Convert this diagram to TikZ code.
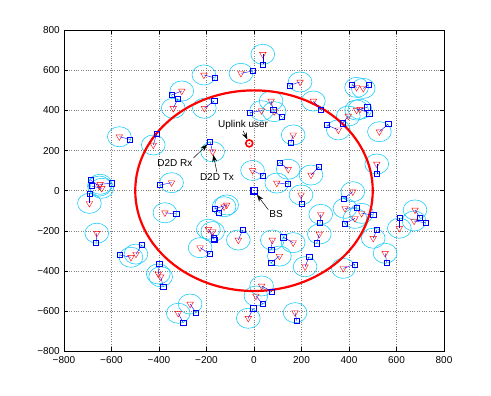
\documentclass[tikz,border=0pt]{standalone}
\usepackage{fontspec}
\setmainfont{Liberation Sans}
\usepackage{tikz}
\usetikzlibrary{shapes.geometric, positioning, arrows.meta}
\definecolor{ringcyan}{RGB}{30,205,250}
% D2D pairs: Tx x/y, Rx x/y
\newcommand{\pairlist}{%
  -211/577/-167/563, -55/585/-5/597, -304/497/-347/477, -340/411/-321/457,
  -209/411/-168/447, -567/269/-522/256, -424/228/-410/283, -174/194/-185/244,
  -347/40/-396/28, 37/680/37/630, 194/542/149/525, 432/515/411/528,
  460/510/484/528, 72/447/81/402, 32/399/-17/389, 85/394/117/369,
  250/447/282/402, 432/402/477/416, 446/406/485/386, 397/372/373/336,
  355/303/306/328, 528/294/565/332, 165/278/155/239, 517/133/517/83,
  -6/101/38/75, 144/107/109/140, 240/78/274/120, 96/38/142/35,
  416/-5/379/-38, 198/-21/201/-63, -648/32/-599/37, -641/12/-683/23,
  -651/23/-688/53, -693/-63/-693/-13, -375/-110/-328/-116, -662/-212/-665/-259,
  -115/-71/-167/-91, -126/-80/-147/-108, -192/-192/-171/-237, -174/-204/-168/-246,
  -66/-246/-48/-196, -227/-284/-185/-316, -518/-332/-564/-321, -497/-316/-472/-271,
  -403/-415/-399/-362, -393/-429/-382/-479, -269/-565/-244/-608, -319/-611/-298/-658,
  -24/-636/-3/-586, 281/-118/278/-160, 275/-216/264/-262, 383/-88/432/-85,
  425/-138/383/-163, 453/-113/502/-121, 502/-237/517/-196, 678/-96/699/-135,
  674/-151/723/-160, 612/-187/612/-135, 552/-312/559/-359, 77/-246/72/-296,
  165/-259/123/-232, 107/-326/72/-359, 215/-379/232/-329, 376/-387/425/-367,
  32/-475/75/-503, 8/-525/37/-565, 173/-608/180/-648}

\begin{document}
\begin{tikzpicture}[
    x = 0.2375pt, y = 0.2006pt,
    axisline/.style = {draw = black, line width = 0.5pt},
    gridline/.style = {draw = black!50, dotted, line width = 0.4pt},
    ticklabel/.style = {font = \fontsize{10}{12}\selectfont, inner sep = 1pt},
    ring/.style = {draw = ringcyan, line width = 0.6pt},
    cellring/.style = {draw = red, line width = 2.2pt},
    link/.style = {draw = blue, line width = 0.4pt},
    txmark/.style = {
      regular polygon, regular polygon sides = 3, shape border rotate = 180,
      draw = red, line width = 0.4pt, inner sep = 0pt, minimum size = 7.5pt
    },
    rxmark/.style = {
      rectangle, draw = blue, line width = 0.4pt, inner sep = 0pt, minimum size = 5.2pt
    },
    usermark/.style = {
      circle, draw = red, line width = 1.6pt, inner sep = 0pt, minimum size = 7pt
    },
    bsmark/.style = {
      rectangle, draw = blue, line width = 1.5pt, inner sep = 0pt, minimum size = 6.5pt
    },
    annot/.style = {font = \fontsize{10}{12}\selectfont, inner sep = 1pt},
    pointer/.style = {-{Stealth[length = 7pt, width = 5pt]}, line width = 0.5pt},
    uplinkpath/.style = {draw = red, dotted, line width = 0.5pt}
  ]
\useasboundingbox (-1069.5,-1023.4) rectangle (997.9,950.6);

% grid
\foreach \v in {-600,-400,...,600} {
  \draw [gridline] (\v,-800) -- (\v,800);
  \draw [gridline] (-800,\v) -- (800,\v);
}

% axes, ticks and tick labels
\draw [axisline] (-800,-800) rectangle (800,800);
\foreach \v/\t [count=\k] in {-800/−800, -600/−600, -400/−400, -200/−200,
    0/0, 200/200, 400/400, 600/600, 800/800} {
  \draw [axisline] (\v,-800) -- ++(0,4pt);
  \draw [axisline] (\v,800) -- ++(0,-4pt);
  \draw [axisline] (-800,\v) -- ++(4pt,0);
  \draw [axisline] (800,\v) -- ++(-4pt,0);
  \node [ticklabel, below = 4pt] (xl\k) at (\v,-800) {\t};
  \node [ticklabel, left = 3pt] (yl\k) at (-800,\v) {\t};
}

% coverage of each D2D transmitter
\foreach \tx/\ty/\rx/\ry in \pairlist
  \draw [ring] (\tx,\ty) circle [radius = 50];

% cell edge
\draw [cellring] (0,0) circle [radius = 500];

% draw nodes
\foreach \tx/\ty/\rx/\ry [count=\i] in \pairlist {
  \node [txmark] (tx\i) at (\tx,\ty) {};
  \node [rxmark] (rx\i) at (\rx,\ry) {};
}
\node [bsmark] (bs) at (0,0) {};
\node [usermark] (uplink) at (-20,236) {};
\fill [blue] (bs) circle (0.8pt);
\fill [red] (uplink) circle (0.8pt);

% draw paths
\foreach \tx/\ty/\rx/\ry [count=\i] in \pairlist
  \draw [link] (tx\i.center) -- (rx\i.center);
\draw [uplinkpath] (uplink) -- (bs);

% labels
\node [annot] (lbluser) at (-46,328) {Uplink user};
\node [annot] (lblrx) at (-333,140) {D2D Rx};
\node [annot] (lbltx) at (-156,68) {D2D Tx};
\node [annot] (lblbs) at (93,-118) {BS};
\draw [pointer] (lbluser.south) -- (uplink);
\draw [pointer] (lblrx.north east) -- (rx8);
\draw [pointer] (lbltx.north) -- (tx8);
\draw [pointer] (lblbs.north west) -- (bs);
\end{tikzpicture}
\end{document}
